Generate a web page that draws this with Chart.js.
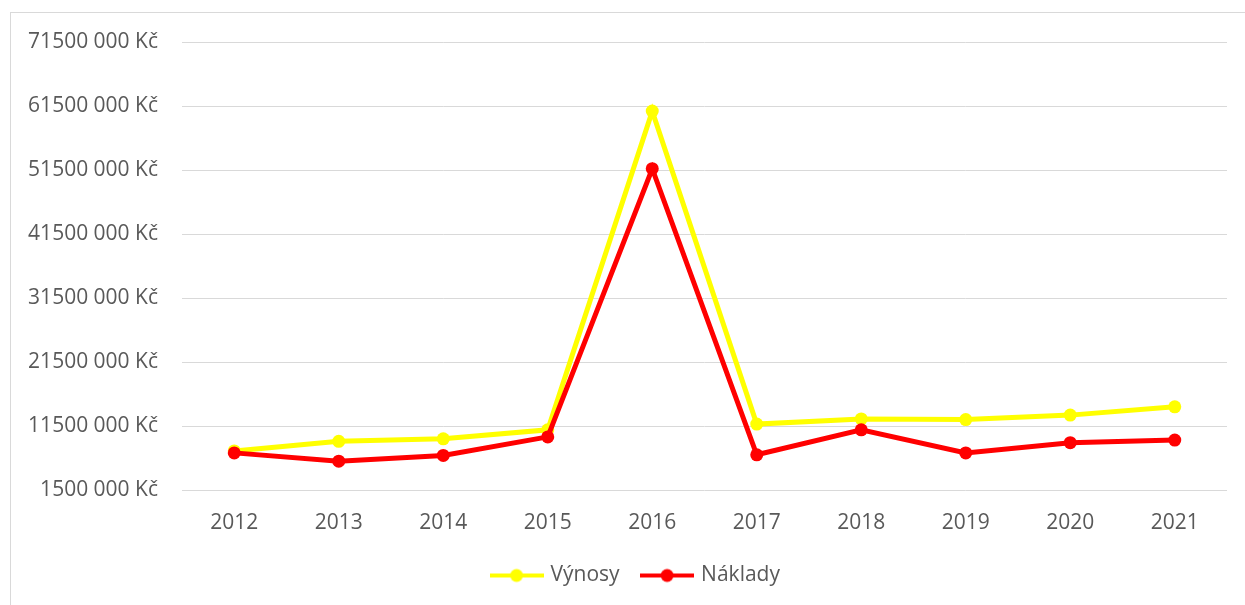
<!DOCTYPE html>
<html lang="cs">
<head>
    <meta charset="UTF-8">
    <title>Výnosy a náklady</title>
    <script src="https://cdn.jsdelivr.net/npm/chart.js"></script>
    <style>
        html, body {
            margin: 0;
            padding: 0;
            background: #fff;
            overflow: hidden;
        }
        .frame {
            position: absolute;
            left: 10px;
            top: 12px;
            width: 1245px;
            height: 605px;
            border: 1px solid #d9d9d9;
        }
        .chart-container {
            position: absolute;
            left: 0;
            top: 0;
            width: 1245px;
            height: 605px;
        }
    </style>
</head>
<body>
    <div class="frame"></div>
    <div class="chart-container">
        <canvas id="resultsChart"></canvas>
    </div>

    <script>
        // data (Kč)
        const years = ['2012', '2013', '2014', '2015', '2016', '2017', '2018', '2019', '2020', '2021'];
        const vynosy = [7600000, 9100000, 9500000, 10900000, 60700000, 11800000, 12600000, 12500000, 13200000, 14500000];
        const naklady = [7300000, 6000000, 6900000, 9800000, 51700000, 7000000, 10900000, 7300000, 8900000, 9300000];
        const yMin = 1500000;
        const yMax = 71500000;
        const yStep = 10000000;

        const YELLOW = '#ffff00';
        const RED = '#ff0000';
        const TEXT = '#595959';
        const FONT = '"Open Sans", sans-serif';

        // little line + dot image for the legend
        function legendMarker(color) {
            const c = document.createElement('canvas');
            c.width = 54;
            c.height = 16;
            const g = c.getContext('2d');
            g.strokeStyle = color;
            g.lineWidth = 4;
            g.beginPath();
            g.moveTo(0, 8);
            g.lineTo(54, 8);
            g.stroke();
            g.fillStyle = color;
            g.beginPath();
            g.arc(27, 8, 6.5, 0, Math.PI * 2);
            g.fill();
            return c;
        }

        // legend is centred on the outer frame, not on the canvas
        const shiftLegend = {
            id: 'shiftLegend',
            afterLayout(chart) {
                chart.legend.left += 23;
                chart.legend.right += 23;
            }
        };

        const ctx = document.getElementById('resultsChart').getContext('2d');
        const resultsChart = new Chart(ctx, {
            type: 'line',
            data: {
                labels: years,
                datasets: [{
                    label: 'Výnosy',
                    data: vynosy,
                    borderColor: YELLOW,
                    backgroundColor: YELLOW,
                    borderWidth: 5,
                    pointRadius: 6.5,
                    pointHoverRadius: 6.5,
                    pointBorderWidth: 0,
                    tension: 0,
                    order: 1
                }, {
                    label: 'Náklady',
                    data: naklady,
                    borderColor: RED,
                    backgroundColor: RED,
                    borderWidth: 5,
                    pointRadius: 6.5,
                    pointHoverRadius: 6.5,
                    pointBorderWidth: 0,
                    tension: 0,
                    order: 0
                }]
            },
            options: {
                responsive: true,
                maintainAspectRatio: false,
                animation: false,
                layout: {
                    padding: { left: 0, right: 18, top: 42, bottom: 9 }
                },
                scales: {
                    x: {
                        offset: true,
                        grid: { display: false, drawTicks: false },
                        border: { display: false },
                        ticks: {
                            color: TEXT,
                            padding: 20,
                            font: { family: FONT, size: 21 }
                        },
                        afterFit: (scale) => { scale.height = 51; }
                    },
                    y: {
                        min: yMin,
                        max: yMax,
                        grid: { color: '#d9d9d9', lineWidth: 1, drawTicks: false },
                        border: { display: false },
                        ticks: {
                            stepSize: yStep,
                            color: TEXT,
                            padding: 24,
                            font: { family: FONT, size: 21 },
                            callback: (value) => Math.round(value / 1000) + ' 000 Kč'
                        },
                        afterFit: (scale) => { scale.width = 182; }
                    }
                },
                plugins: {
                    tooltip: { enabled: false },
                    legend: {
                        position: 'bottom',
                        labels: {
                            color: TEXT,
                            padding: 24,
                            usePointStyle: true,
                            pointStyleWidth: 47,
                            font: { family: FONT, size: 21 },
                            generateLabels: (chart) => chart.data.datasets.map((ds, i) => ({
                                text: ds.label,
                                fontColor: TEXT,
                                pointStyle: legendMarker(ds.borderColor),
                                fillStyle: ds.borderColor,
                                strokeStyle: ds.borderColor,
                                lineWidth: 0,
                                hidden: false,
                                datasetIndex: i
                            }))
                        }
                    }
                }
            },
            plugins: [shiftLegend]
        });
    </script>
</body>
</html>
